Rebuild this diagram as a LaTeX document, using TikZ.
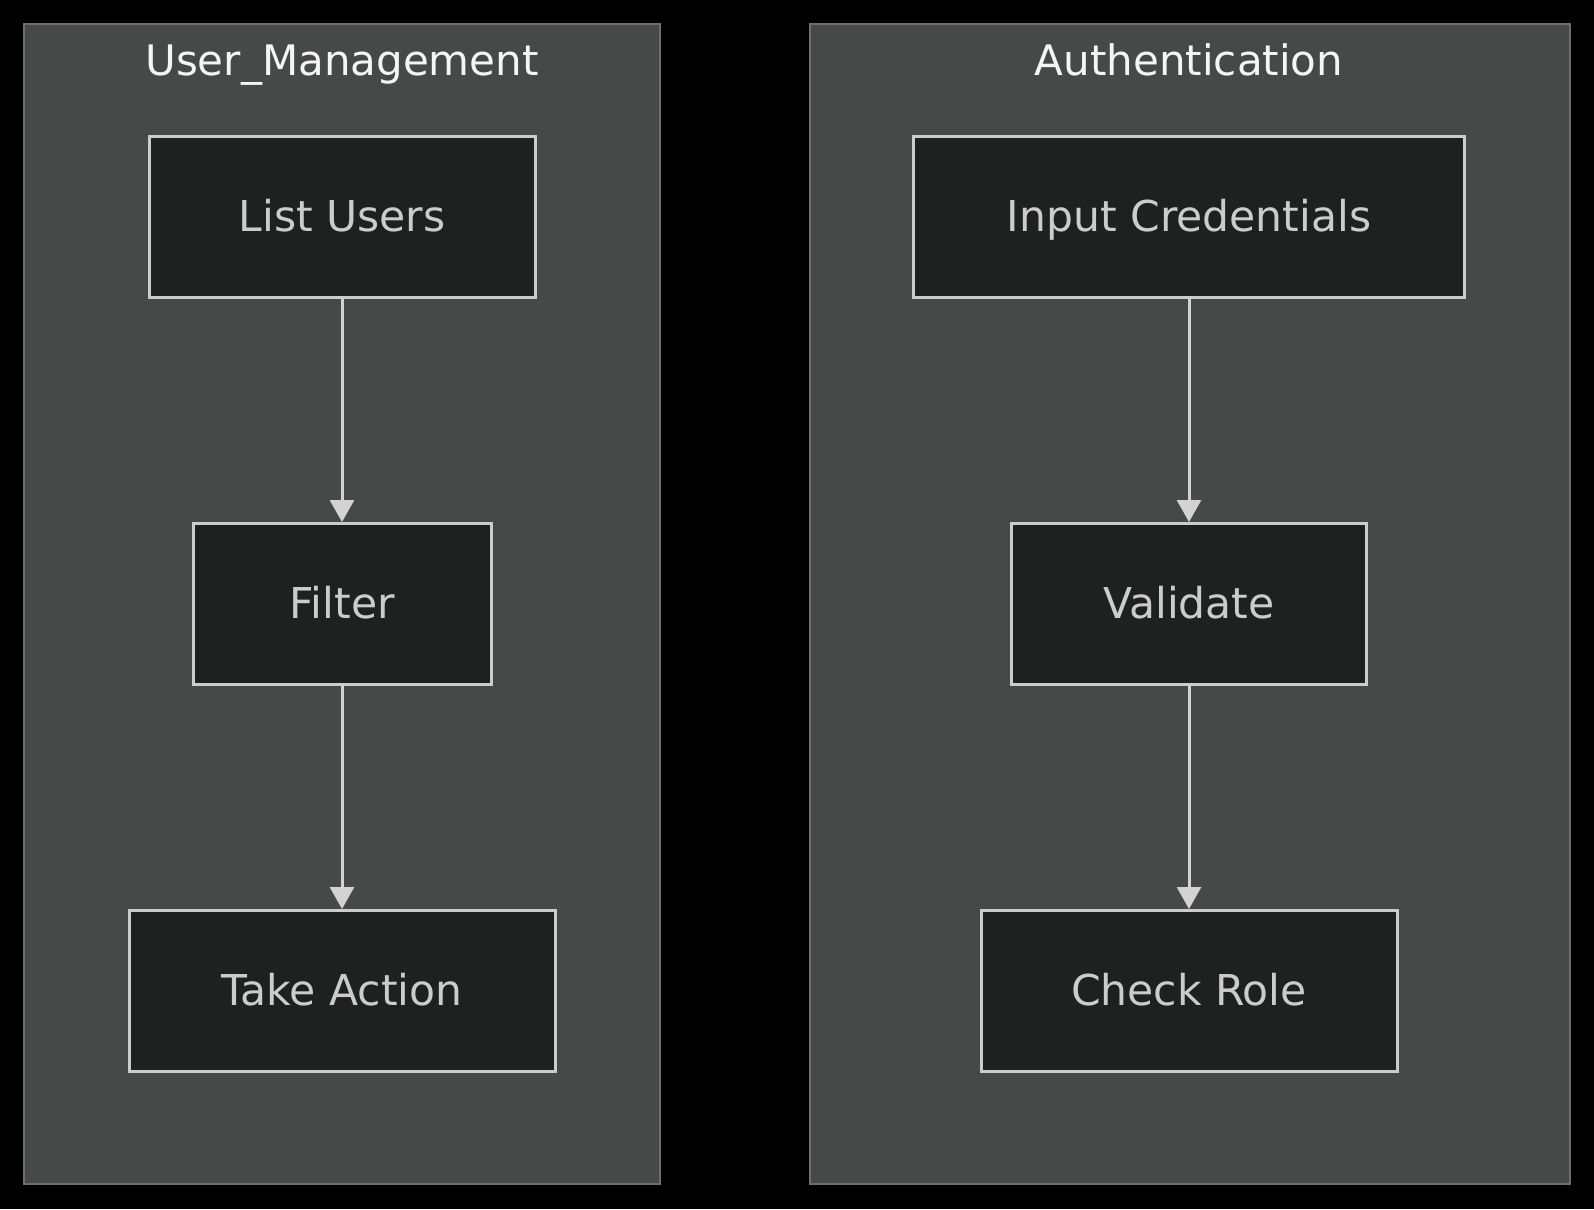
\documentclass[tikz,border=0pt]{standalone}
\usepackage{fontspec}
\setmainfont{DejaVu Sans}
\usetikzlibrary{arrows.meta}
\definecolor{bgc}{HTML}{000000}
\definecolor{clfill}{HTML}{474948}
\definecolor{clborder}{HTML}{6E6E6E}
\definecolor{ndfill}{HTML}{1F2020}
\definecolor{ndborder}{HTML}{CCCCCC}
\definecolor{ndtext}{HTML}{CCCCCC}
\definecolor{edgec}{HTML}{D3D3D3}
\definecolor{titlec}{HTML}{F5F5F5}
\tikzset{
  cluster/.style={draw=clborder, fill=clfill, line width=2pt},
  proc/.style={draw=ndborder, fill=ndfill, line width=3pt, text=ndtext, font=\fontsize{42.5}{50}\selectfont, inner sep=0pt, text height=31pt, text depth=3pt, anchor=center},
  title/.style={text=titlec, font=\fontsize{42}{50}\selectfont, anchor=base, inner sep=0pt},
  flow/.style={draw=edgec, line width=3pt, -{Triangle[width=24pt,length=22pt]}}
}
\begin{document}
\begin{tikzpicture}[x=1pt,y=-1pt]
\path[fill=bgc,use as bounding box] (0,0) rectangle (1594,1209);
% clusters
\path[cluster] (24,24) rectangle (660,1184);
\path[cluster] (810,24) rectangle (1570,1184);
\node[title] (t1) at (342,76) {User\_Management};
\node[title] (t2) at (1189,76) {Authentication};
% left nodes
\node[proc, minimum width=386pt, minimum height=161pt] (lu) at (342,217) {List Users};
\node[proc, minimum width=298pt, minimum height=161pt] (fi) at (342,604) {Filter};
\node[proc, minimum width=426pt, minimum height=161pt] (ta) at (342,991) {Take Action};
% right nodes
\node[proc, minimum width=551pt, minimum height=161pt] (ic) at (1189,217) {Input Credentials};
\node[proc, minimum width=355pt, minimum height=161pt] (va) at (1189,604) {Validate};
\node[proc, minimum width=416pt, minimum height=161pt] (cr) at (1189,991) {Check Role};
% edges
\draw[flow] (lu) -- (fi);
\draw[flow] (fi) -- (ta);
\draw[flow] (ic) -- (va);
\draw[flow] (va) -- (cr);
\end{tikzpicture}
\end{document}
